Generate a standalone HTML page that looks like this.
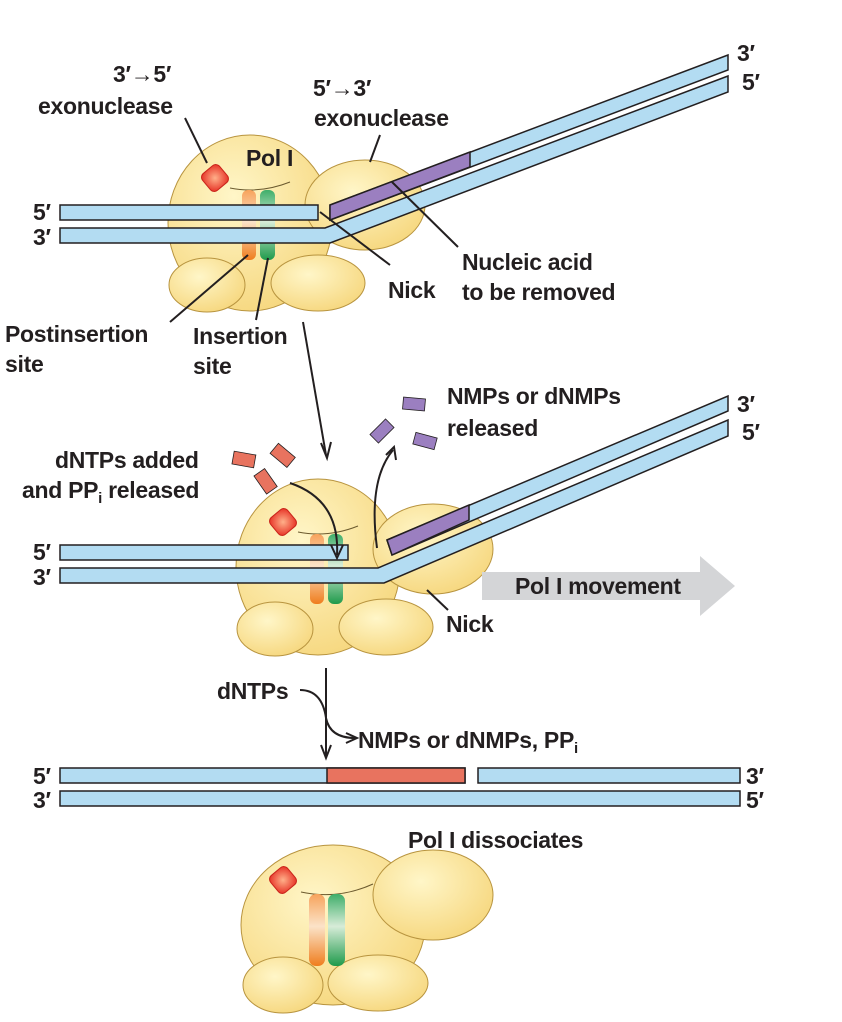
<!DOCTYPE html>
<html><head><meta charset="utf-8"><style>
html,body{margin:0;padding:0;background:#fff;}
svg{display:block;font-family:"Liberation Sans",sans-serif;}
text{font-weight:bold;fill:#231f20;font-size:23px;letter-spacing:-0.3px;}
</style></head><body>
<svg width="842" height="1022" viewBox="0 0 842 1022">
<defs>
<radialGradient id="yel" cx="0.4" cy="0.35" r="0.7"><stop offset="0" stop-color="#fff6c8"/><stop offset="1" stop-color="#f6d77e"/></radialGradient>
<radialGradient id="red" cx="0.5" cy="0.5" r="0.6"><stop offset="0" stop-color="#ffb08a"/><stop offset="1" stop-color="#e8392b"/></radialGradient>
<linearGradient id="org" x1="0" y1="0" x2="0" y2="1"><stop offset="0" stop-color="#f7a35c"/><stop offset="0.45" stop-color="#fbe3c8"/><stop offset="1" stop-color="#ef7d1e"/></linearGradient>
<linearGradient id="grn" x1="0" y1="0" x2="0" y2="1"><stop offset="0" stop-color="#3fae6a"/><stop offset="0.45" stop-color="#d7ecd8"/><stop offset="1" stop-color="#1f9a4b"/></linearGradient>
<g id="enz">
 <ellipse cx="35" cy="45" rx="82" ry="88" fill="url(#yel)" stroke="#b8943f" stroke-width="1"/>
 <ellipse cx="150" cy="27" rx="60" ry="45" fill="url(#yel)" stroke="#b8943f" stroke-width="1"/>
 <ellipse cx="-8" cy="107" rx="38" ry="27" fill="url(#yel)" stroke="#b8943f" stroke-width="1"/>
 <ellipse cx="103" cy="105" rx="47" ry="28" fill="url(#yel)" stroke="#b8943f" stroke-width="1"/>
 <rect x="-11" y="-11" width="22" height="22" rx="5" transform="rotate(-40)" fill="url(#red)" stroke="#c9241b"/>
 <path d="M15 10 Q45 16 75 4" fill="none" stroke="#6b5a2e" stroke-width="1"/>
 <rect x="27" y="12" width="14" height="70" rx="6" fill="url(#org)"/>
 <rect x="45" y="12" width="15" height="70" rx="6" fill="url(#grn)"/>
</g>
</defs>
<use href="#enz" x="215" y="178"/>
<g stroke="#231f20" stroke-width="1.5">
 <rect x="60" y="205" width="258" height="15" fill="#b3dcf2"/>
 <polygon points="60,228 325,228 728,76 728,92 330,243 60,243" fill="#b3dcf2"/>
 <polygon points="330,205 728,55 728,70 330,220" fill="#b3dcf2"/>
 <polygon points="330,205 470,152 470,167 330,220" fill="#9b7fc0"/>
</g>
<g stroke="#231f20" stroke-width="2" fill="none">
 <line x1="185" y1="118" x2="207" y2="163"/><line x1="380" y1="135" x2="370" y2="162"/>
 <line x1="320" y1="212" x2="390" y2="265"/><line x1="392" y1="182" x2="458" y2="247"/>
 <line x1="248" y1="255" x2="170" y2="322"/><line x1="268" y1="258" x2="256" y2="320"/>
 <line x1="303" y1="322" x2="326" y2="455"/><path d="M321 443 L327 458 L331 442" />
</g>
<text x="113" y="82">3′→5′</text><text x="38" y="114">exonuclease</text>
<text x="313" y="96">5′→3′</text><text x="314" y="126">exonuclease</text>
<text x="246" y="166" font-size="19">Pol I</text>
<text x="33" y="220">5′</text><text x="33" y="245">3′</text>
<text x="737" y="61">3′</text><text x="742" y="90">5′</text>
<text x="388" y="298">Nick</text><text x="462" y="270">Nucleic acid</text><text x="462" y="300">to be removed</text>
<text x="5" y="342">Postinsertion</text><text x="5" y="372">site</text>
<text x="193" y="344">Insertion</text><text x="193" y="374">site</text>
<!-- middle -->
<use href="#enz" x="283" y="522"/>
<g stroke="#231f20" stroke-width="1.5">
 <rect x="60" y="545" width="288" height="15" fill="#b3dcf2"/>
 <polygon points="60,568 378,568 728,420 728,436 384,583 60,583" fill="#b3dcf2"/>
 <polygon points="387,540 728,396 728,411 392,555" fill="#b3dcf2"/>
 <polygon points="387,540 469,505 469,520 392,555" fill="#9b7fc0"/>
</g>
<polygon points="482,572 700,572 700,556 735,586 700,616 700,600 482,600" fill="#d4d5d7"/>
<text x="515" y="594">Pol I movement</text>
<g fill="#e8735f" stroke="#231f20" stroke-width="0.8">
 <rect x="233" y="453" width="22" height="13" transform="rotate(10 244 459)"/>
 <rect x="272" y="449" width="22" height="13" transform="rotate(40 283 455)"/>
 <rect x="255" y="475" width="22" height="13" transform="rotate(55 266 481)"/>
</g>
<g fill="#9b7fc0" stroke="#231f20" stroke-width="0.8">
 <rect x="403" y="398" width="22" height="12" transform="rotate(5 414 404)"/>
 <rect x="371" y="425" width="22" height="12" transform="rotate(-45 382 431)"/>
 <rect x="414" y="435" width="22" height="12" transform="rotate(15 425 441)"/>
</g>
<g stroke="#231f20" stroke-width="2" fill="none">
 <path d="M290 483 Q340 500 337 555"/><path d="M331 545 L337 558 L343 545"/>
 <path d="M377 548 Q368 480 393 450"/><path d="M386 455 L394 447 L396 460"/>
 <line x1="427" y1="590" x2="448" y2="610"/>
 <line x1="326" y1="668" x2="326" y2="756"/><path d="M321 745 L326 758 L331 745"/>
 <path d="M300 690 Q322 690 326 718 Q330 738 355 738"/><path d="M346 733 L357 738 L346 743"/>
</g>
<text x="55" y="468">dNTPs added</text><text x="22" y="498">and PP<tspan font-size="15" dy="5">i</tspan><tspan dy="-5"> released</tspan></text>
<text x="447" y="404">NMPs or dNMPs</text><text x="447" y="436">released</text>
<text x="33" y="560">5′</text><text x="33" y="585">3′</text>
<text x="737" y="412">3′</text><text x="742" y="440">5′</text>
<text x="446" y="632">Nick</text>
<text x="217" y="699">dNTPs</text>
<text x="358" y="748">NMPs or dNMPs, PP<tspan font-size="15" dy="5">i</tspan></text>
<!-- bottom -->
<g stroke="#231f20" stroke-width="1.5">
 <rect x="60" y="768" width="405" height="15" fill="#b3dcf2"/>
 <rect x="327" y="768" width="138" height="15" fill="#e8735f"/>
 <rect x="478" y="768" width="262" height="15" fill="#b3dcf2"/>
 <rect x="60" y="791" width="680" height="15" fill="#b3dcf2"/>
</g>
<text x="33" y="784">5′</text><text x="33" y="808">3′</text>
<text x="746" y="784">3′</text><text x="746" y="808">5′</text>
<text x="408" y="848">Pol I dissociates</text>
<g transform="translate(283 880)">
 <ellipse cx="50" cy="45" rx="92" ry="80" fill="url(#yel)" stroke="#b8943f"/>
 <ellipse cx="150" cy="15" rx="60" ry="45" fill="url(#yel)" stroke="#b8943f"/>
 <ellipse cx="0" cy="105" rx="40" ry="28" fill="url(#yel)" stroke="#b8943f"/>
 <ellipse cx="95" cy="103" rx="50" ry="28" fill="url(#yel)" stroke="#b8943f"/>
 <rect x="-11" y="-11" width="22" height="22" rx="5" transform="rotate(-40)" fill="url(#red)" stroke="#c9241b"/>
 <path d="M18 12 Q55 20 90 4" fill="none" stroke="#6b5a2e"/>
 <rect x="26" y="14" width="16" height="72" rx="7" fill="url(#org)"/>
 <rect x="45" y="14" width="17" height="72" rx="7" fill="url(#grn)"/>
</g>
</svg>
</body></html>
